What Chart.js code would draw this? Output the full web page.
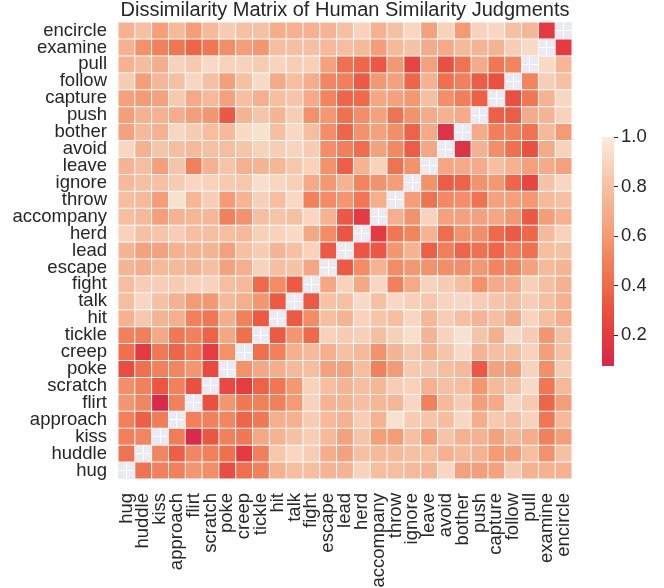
<!DOCTYPE html>
<html lang="en">
<head>
<meta charset="UTF-8">
<title>Dissimilarity Matrix of Human Similarity Judgments</title>
<script src="https://cdn.jsdelivr.net/npm/chart.js"></script>
<style>
  body { margin: 0; background: #fff; }
  #wrap { position: relative; width: 664px; height: 588px; }
  #heat { position: absolute; left: 0; top: 0; }
  #cbar { position: absolute; left: 602px; top: 123px; }
</style>
</head>
<body>
<div id="wrap">
  <canvas id="heat" width="664" height="588"></canvas>
  <canvas id="cbar" width="62" height="257"></canvas>
</div>
<script>
// words in x-axis order (left to right); y axis runs the same order bottom to top
const words = ['hug', 'huddle', 'kiss', 'approach', 'flirt', 'scratch', 'poke', 'creep', 'tickle',
  'hit', 'talk', 'fight', 'escape', 'lead', 'herd', 'accompany', 'throw', 'ignore', 'leave',
  'avoid', 'bother', 'push', 'capture', 'follow', 'pull', 'examine', 'encircle'];

// lower triangle: dissimilarity of each word to the words before it
const rowHuddle = [0.44];
const rowKiss = [0.50, 0.52];
const rowApproach = [0.50, 0.36, 0.48];
const rowFlirt = [0.58, 0.52, 0.10, 0.50];
const rowScratch = [0.55, 0.50, 0.32, 0.50, 0.30];
const rowPoke = [0.28, 0.42, 0.50, 0.52, 0.58, 0.27];
const rowCreep = [0.42, 0.20, 0.46, 0.38, 0.46, 0.21, 0.56];
const rowTickle = [0.50, 0.49, 0.67, 0.46, 0.50, 0.37, 0.66, 0.42];
const rowHit = [0.72, 0.83, 0.73, 0.71, 0.50, 0.45, 0.70, 0.50, 0.34];
const rowTalk = [0.78, 0.90, 0.80, 0.72, 0.60, 0.59, 0.76, 0.71, 0.58, 0.34];
const rowFight = [0.78, 0.86, 0.86, 0.85, 0.88, 0.88, 0.78, 0.76, 0.40, 0.54, 0.34];
const rowEscape = [0.74, 0.70, 0.76, 0.76, 0.73, 0.79, 0.64, 0.71, 0.88, 0.79, 0.81, 0.66];
const rowLead = [0.74, 0.64, 0.64, 0.72, 0.74, 0.74, 0.63, 0.80, 0.85, 0.74, 0.80, 0.88, 0.34];
const rowHerd = [0.88, 0.80, 0.82, 0.86, 0.79, 0.79, 0.78, 0.76, 0.87, 0.88, 0.92, 0.67, 0.54, 0.32];
const rowAccompany = [0.78, 0.76, 0.62, 0.73, 0.75, 0.75, 0.50, 0.57, 0.79, 0.82, 0.80, 0.90, 0.73, 0.33, 0.20];
const rowThrow = [0.78, 0.76, 0.61, 0.95, 0.75, 0.86, 0.60, 0.74, 0.87, 0.78, 0.91, 0.50, 0.54, 0.58, 0.45, 0.71];
const rowIgnore = [0.76, 0.80, 0.80, 0.85, 0.90, 0.88, 0.84, 0.83, 0.94, 0.90, 0.87, 0.68, 0.59, 0.73, 0.51, 0.57, 0.61];
const rowLeave = [0.74, 0.78, 0.62, 0.82, 0.50, 0.72, 0.82, 0.72, 0.74, 0.75, 0.83, 0.88, 0.57, 0.36, 0.73, 0.88, 0.44, 0.57];
const rowAvoid = [0.90, 0.72, 0.82, 0.78, 0.76, 0.80, 0.78, 0.82, 0.88, 0.86, 0.89, 0.85, 0.55, 0.49, 0.41, 0.64, 0.53, 0.35, 0.66];
const rowBother = [0.64, 0.76, 0.72, 0.90, 0.85, 0.78, 0.76, 0.92, 0.95, 0.79, 0.91, 0.78, 0.55, 0.38, 0.57, 0.64, 0.55, 0.37, 0.68, 0.15];
const rowPush = [0.62, 0.72, 0.72, 0.70, 0.62, 0.58, 0.33, 0.74, 0.82, 0.74, 0.86, 0.56, 0.59, 0.43, 0.55, 0.64, 0.44, 0.57, 0.69, 0.72, 0.69];
const rowCapture = [0.64, 0.60, 0.64, 0.84, 0.68, 0.76, 0.64, 0.79, 0.71, 0.79, 0.82, 0.68, 0.51, 0.38, 0.40, 0.66, 0.64, 0.59, 0.79, 0.55, 0.49, 0.36];
const rowFollow = [0.85, 0.62, 0.75, 0.80, 0.90, 0.80, 0.62, 0.80, 0.92, 0.69, 0.78, 0.70, 0.52, 0.49, 0.34, 0.59, 0.63, 0.38, 0.72, 0.42, 0.50, 0.35, 0.30];
const rowPull = [0.72, 0.78, 0.70, 0.88, 0.84, 0.92, 0.88, 0.88, 0.85, 0.89, 0.86, 0.87, 0.64, 0.43, 0.39, 0.33, 0.59, 0.25, 0.63, 0.30, 0.44, 0.69, 0.45, 0.51];
const rowExamine = [0.72, 0.56, 0.50, 0.45, 0.38, 0.45, 0.55, 0.62, 0.58, 0.78, 0.79, 0.79, 0.76, 0.78, 0.76, 0.61, 0.76, 0.81, 0.69, 0.68, 0.76, 0.74, 0.73, 0.86, 0.92];
const rowEncircle = [0.72, 0.80, 0.62, 0.76, 0.62, 0.76, 0.85, 0.80, 0.80, 0.70, 0.72, 0.72, 0.74, 0.80, 0.88, 0.72, 0.80, 0.90, 0.64, 0.88, 0.60, 0.88, 0.90, 0.80, 0.75, 0.20];

// colour bar range and ticks
const cbMin = 0.076;
const cbMax = 1.0;
const cbTicks = [0.2, 0.4, 0.6, 0.8, 1.0];

const lowerRows = [[], rowHuddle, rowKiss, rowApproach, rowFlirt, rowScratch, rowPoke, rowCreep,
  rowTickle, rowHit, rowTalk, rowFight, rowEscape, rowLead, rowHerd, rowAccompany, rowThrow,
  rowIgnore, rowLeave, rowAvoid, rowBother, rowPush, rowCapture, rowFollow, rowPull, rowExamine, rowEncircle];

const matrix = words.map((_, i) => words.map((_, j) => {
  if (i === j) return null;
  return j < i ? lowerRows[i][j] : lowerRows[j][i];
}));

// colour map: pale cream at 1.0 down to crimson at the low end
const cmapStops = [
  [0.076, [216, 38, 77]],
  [0.2, [228, 58, 64]],
  [0.3, [234, 80, 64]],
  [0.4, [239, 106, 74]],
  [0.5, [242, 129, 91]],
  [0.6, [244, 155, 117]],
  [0.7, [245, 173, 139]],
  [0.8, [246, 193, 163]],
  [0.9, [248, 214, 193]],
  [1.0, [250, 235, 221]]
];

function cmap(v) {
  if (v <= cmapStops[0][0]) return 'rgb(' + cmapStops[0][1].join(',') + ')';
  for (let k = 1; k < cmapStops.length; k++) {
    const [v1, c1] = cmapStops[k];
    if (v <= v1) {
      const [v0, c0] = cmapStops[k - 1];
      const t = (v - v0) / (v1 - v0);
      const c = c0.map((x, n) => Math.round(x + (c1[n] - x) * t));
      return 'rgb(' + c.join(',') + ')';
    }
  }
  return 'rgb(' + cmapStops[cmapStops.length - 1][1].join(',') + ')';
}

const fontFamily = "'Liberation Sans', Arial, sans-serif";
const textColor = '#262626';
const tickSize = 18.5;

// one floating-bar dataset per row of the matrix
const datasets = words.map((w, r) => ({
  label: w,
  data: words.map((_, c) => matrix[r][c] === null ? null : [r, r + 1]),
  backgroundColor: words.map((_, c) => matrix[r][c] === null ? 'rgba(0,0,0,0)' : cmap(matrix[r][c])),
  borderColor: '#ffffff',
  borderWidth: 0.8,
  borderSkipped: false,
  barPercentage: 1,
  categoryPercentage: 1,
  grouped: false
}));

const areaBg = {
  id: 'areaBg',
  beforeDraw(chart) {
    const { ctx, chartArea: a } = chart;
    ctx.save();
    ctx.fillStyle = '#eaeaf2';
    ctx.fillRect(a.left, a.top, a.right - a.left, a.bottom - a.top);
    ctx.restore();
  }
};

new Chart(document.getElementById('heat'), {
  type: 'bar',
  data: { labels: words, datasets: datasets },
  plugins: [areaBg],
  options: {
    responsive: false,
    animation: false,
    events: [],
    layout: { padding: { left: 0, right: 92, top: 0, bottom: 0 } },
    plugins: {
      legend: { display: false },
      tooltip: { enabled: false },
      title: {
        display: true,
        text: 'Dissimilarity Matrix of Human Similarity Judgments',
        fullSize: false,
        color: textColor,
        font: { family: fontFamily, size: 20, weight: 'normal', lineHeight: 1 },
        padding: { top: 0, bottom: 2 }
      }
    },
    scales: {
      x: {
        type: 'category',
        offset: true,
        afterFit: s => { s.height = 109; },
        grid: { display: true, offset: false, color: '#ffffff', lineWidth: 1, drawTicks: false },
        border: { display: false },
        ticks: {
          autoSkip: false,
          minRotation: 90,
          maxRotation: 90,
          padding: 14,
          color: textColor,
          font: { family: fontFamily, size: tickSize }
        }
      },
      y: {
        type: 'linear',
        min: 0,
        max: words.length,
        afterFit: s => { s.width = 118; },
        afterBuildTicks: s => { s.ticks = words.map((_, i) => ({ value: i + 0.5 })); },
        grid: { display: true, color: '#ffffff', lineWidth: 1, drawTicks: false },
        border: { display: false },
        ticks: {
          autoSkip: false,
          padding: 11,
          color: textColor,
          font: { family: fontFamily, size: tickSize },
          callback: (v) => words[Math.floor(v)]
        }
      }
    }
  }
});

// colour bar
new Chart(document.getElementById('cbar'), {
  type: 'bar',
  data: {
    labels: [''],
    datasets: [{
      data: [[cbMin, cbMax]],
      barPercentage: 1,
      categoryPercentage: 1,
      borderWidth: 0,
      backgroundColor: (ctx) => {
        const chart = ctx.chart;
        if (!chart.chartArea) return null;
        const y = chart.scales.y;
        const g = chart.ctx.createLinearGradient(0, y.getPixelForValue(cbMin), 0, y.getPixelForValue(cbMax));
        cmapStops.forEach(([v]) => g.addColorStop((v - cbMin) / (cbMax - cbMin), cmap(v)));
        return g;
      }
    }]
  },
  options: {
    responsive: false,
    animation: false,
    events: [],
    layout: { padding: { left: 0, right: 0, top: 12, bottom: 13 } },
    plugins: { legend: { display: false }, tooltip: { enabled: false } },
    scales: {
      x: { display: false },
      y: {
        position: 'right',
        min: cbMin,
        max: cbMax,
        afterFit: s => { s.width = 50; },
        afterBuildTicks: s => { s.ticks = cbTicks.map(v => ({ value: v })); },
        grid: { drawOnChartArea: false, drawTicks: true, tickLength: 4, tickColor: textColor, tickWidth: 1 },
        border: { display: false },
        ticks: {
          padding: 3,
          color: textColor,
          font: { family: fontFamily, size: tickSize },
          callback: (v) => v.toFixed(1)
        }
      }
    }
  }
});
</script>
</body>
</html>
